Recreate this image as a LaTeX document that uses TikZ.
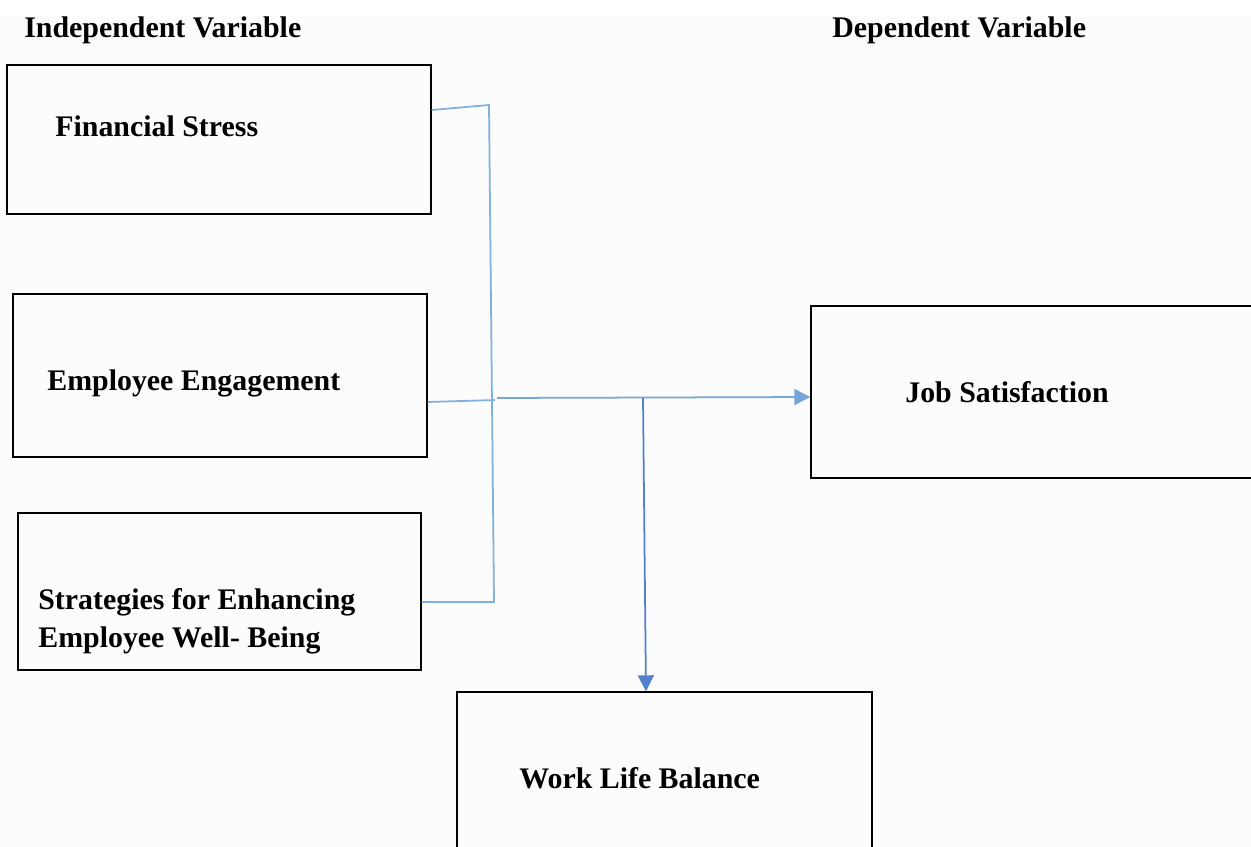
\documentclass[tikz,border=0pt]{standalone}
\usepackage{fontspec}
\setmainfont{Liberation Serif}
\usetikzlibrary{arrows.meta,calc,positioning}

\definecolor{linkblue}{HTML}{7FB0E0}
\definecolor{downblue}{HTML}{4A78C8}
\definecolor{paper}{HTML}{FCFCFC}

\begin{document}
\begin{tikzpicture}[
    link/.style={draw=linkblue, line width=1pt},
    larr/.style={link, -{Triangle[length=0.32cm,width=0.32cm]}, draw=linkblue!80!downblue},
    darr/.style={draw=downblue!85!linkblue, line width=1pt, -{Triangle[length=0.32cm,width=0.32cm]}},
    vbox/.style={draw, line width=0.8pt, inner sep=0pt},
    lbl/.style={font=\bfseries\fontsize{17}{21.5}\selectfont, inner sep=0pt, align=left},
    head/.style={font=\bfseries\fontsize{17}{20}\selectfont, inner sep=0pt}
]

% ---- page ----
\useasboundingbox (0,0) rectangle (25.02,-16.94);
\fill[paper] (0,-0.3) rectangle (25.02,-16.94);

% ---- bus positions ----
\def\ry{-7.96}

% ===== HEADINGS =====
\node[head, anchor=base west] (hind) at (0.48,-0.74) {Independent Variable};
\node[head, anchor=base west] (hdep) at (16.64,-0.74) {Dependent Variable};

% ===== INDEPENDENT =====
\node[vbox, minimum width=8.48cm, minimum height=2.98cm] (fs) at (4.38,-2.79) {};
\node[lbl, anchor=base west] (fst) at (1.10,-2.72) {Financial Stress};

\node[vbox, minimum width=8.28cm, minimum height=3.26cm] (ee) at (4.40,-7.51) {};
\node[lbl, anchor=base west] (eet) at (0.94,-7.80) {Employee Engagement};

\node[vbox, minimum width=8.06cm, minimum height=3.14cm] (st) at (4.39,-11.83) {};
\node[lbl, anchor=west] (stt) at (0.76,-12.42) {Strategies for Enhancing\\Employee Well- Being};

% ===== DEPENDENT =====
\node[vbox, minimum width=8.98cm, minimum height=3.44cm] (js) at (20.71,-7.84) {};
\node[lbl, anchor=base west] (jst) at (18.10,-8.04) {Job Satisfaction};

\node[vbox, minimum width=8.30cm, minimum height=3.36cm] (wlb) at (13.29,-15.52) {};
\node[lbl, anchor=base west] (wlbt) at (10.38,-15.76) {Work Life Balance};

% ===== CONNECTORS =====
\coordinate (bustop) at (9.78,-2.10);
\coordinate (busbot) at (9.88,-12.04);
\coordinate (busmid) at (9.90,-8.00);
\coordinate (hstart) at (9.94,\ry);
\coordinate (split) at (12.86,\ry);

% collecting bus (drawn slightly slanted, as in the sketch)
\draw[link] ($(fs.east)+(0,0.59)$) -- (bustop) -- (busbot) -- ($(st.east)+(0,-0.21)$);
\draw[link] ($(ee.east)+(0,-0.53)$) -- (busmid);
\draw[larr] (hstart) -- ($(js.west)+(0,-0.10)$);

% down to work life balance
\draw[darr] (split) -- ($(wlb.north)+(-0.37,0)$);

\end{tikzpicture}
\end{document}
